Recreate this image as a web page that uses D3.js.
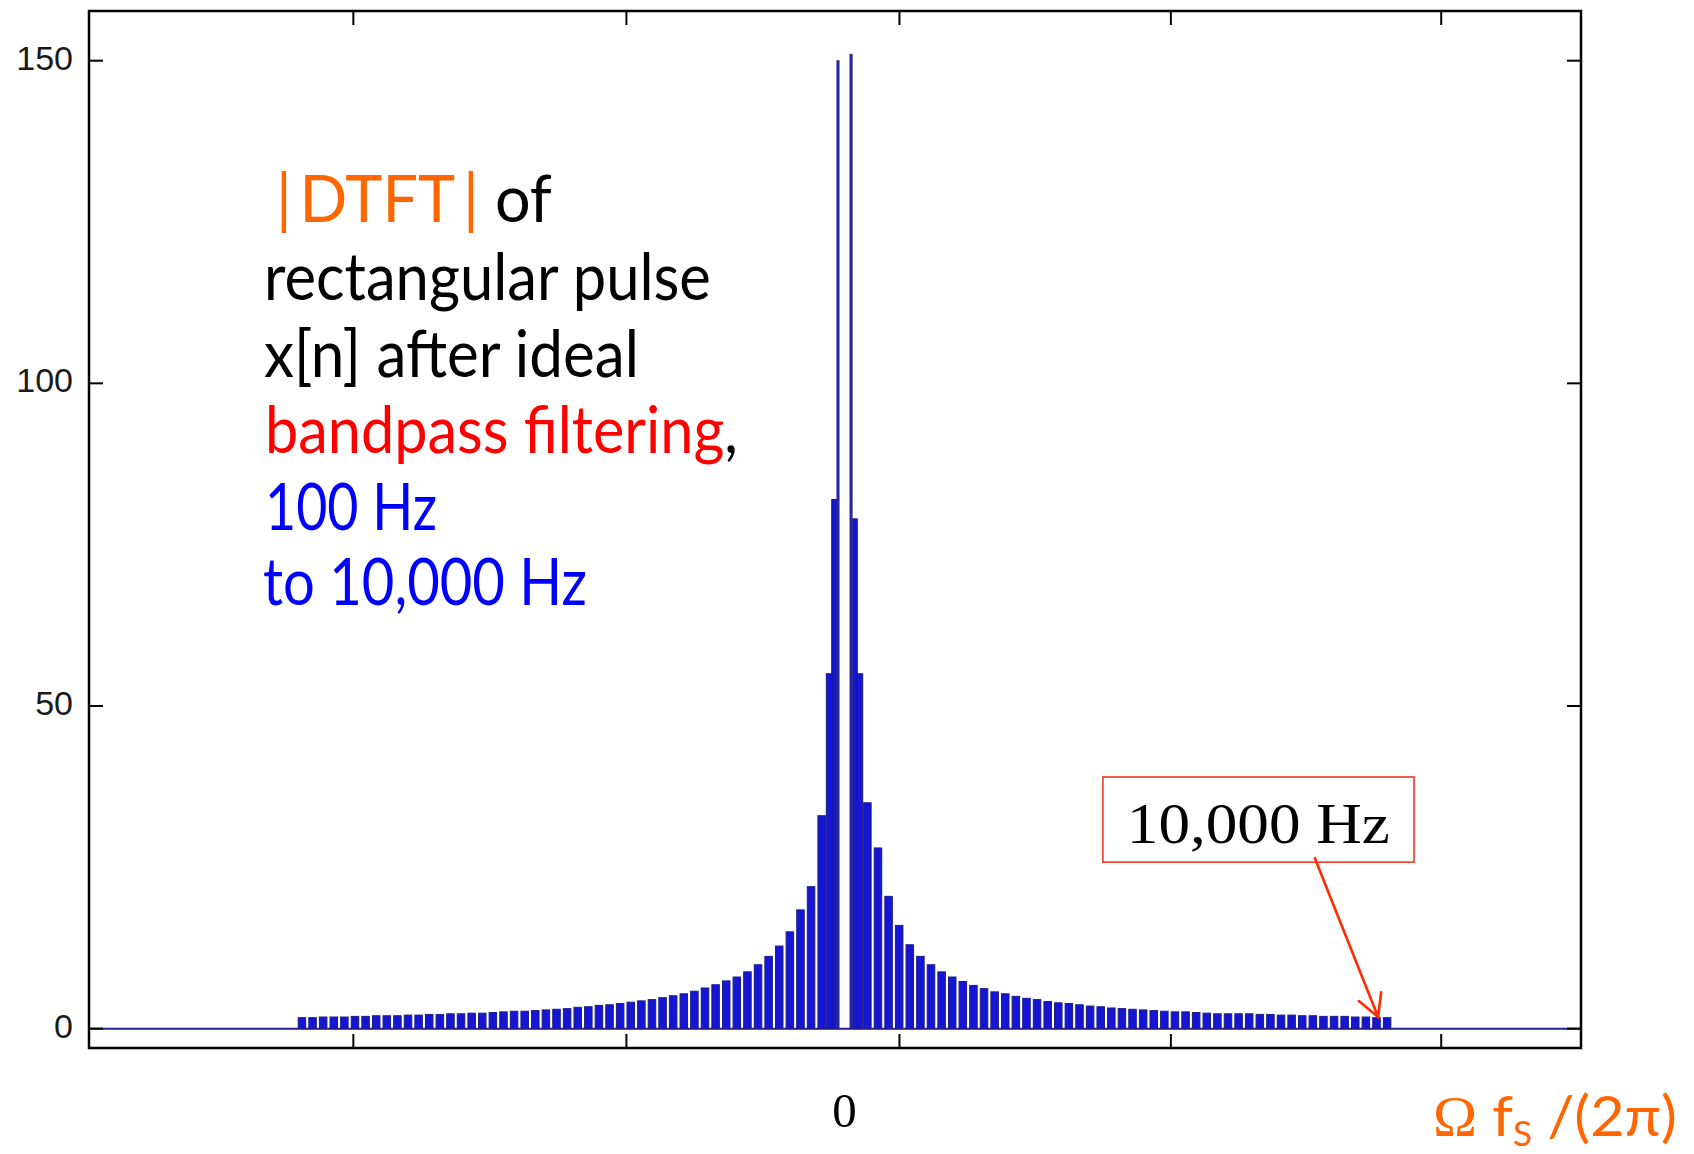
<!DOCTYPE html>
<html>
<head>
<meta charset="utf-8">
<script src="https://cdn.jsdelivr.net/npm/d3@7"></script>
<style>
  body { margin: 0; background: #fff; }
  svg { display: block; }
</style>
</head>
<body>
<svg id="chart" width="1694" height="1154"></svg>
<script>
var yTicks = [0, 50, 100, 150];
var xTicks = [-9030, -4010, 1010, 6000, 10970];

// centre of the spectrum: stepped main lobes either side of the 100 Hz notch
var mainRight = [
  {f0: 100, f1: 140, v: 151},
  {f0: 140, f1: 235, v: 79},
  {f0: 235, f1: 335, v: 55}
];
var mainLeft = [
  {f0: -140, f1: -100, v: 150},
  {f0: -235, f1: -140, v: 82},
  {f0: -335, f1: -235, v: 55}
];

// side lobe peaks, going outwards from the centre (Hz grid below)
var lobeStart = 420, lobeStep = 195, lobeWidth = 138;
var rightPeaks = [35, 28, 20.5, 16, 13, 11.2, 9.9, 8.8, 8.0, 7.3,
  6.7, 6.2, 5.7, 5.4, 5.0, 4.7, 4.5, 4.2, 4.0, 3.9,
  3.7, 3.5, 3.4, 3.2, 3.1, 3.0, 2.9, 2.8, 2.7, 2.6,
  2.6, 2.5, 2.4, 2.3, 2.3, 2.3, 2.3, 2.2, 2.2, 2.1,
  2.1, 2.0, 2.0, 1.9, 1.9, 1.9, 1.8, 1.8, 1.7, 1.7];
var leftPeaks = [33, 22, 18.4, 15, 12.8, 11.2, 9.9, 8.8, 8.0, 7.4,
  6.8, 6.3, 5.8, 5.4, 5.1, 4.8, 4.5, 4.3, 4.1, 3.9,
  3.7, 3.6, 3.4, 3.3, 3.1, 3.0, 2.9, 2.8, 2.7, 2.7,
  2.6, 2.5, 2.4, 2.4, 2.3, 2.3, 2.2, 2.2, 2.1, 2.1,
  2.0, 2.0, 2.0, 1.9, 1.9, 1.8, 1.8, 1.8, 1.7, 1.7];

// annotation, in data units
var markFreq = 9810, markVal = 1.8;
var boxCorner = {f0: 4750, f1: 10470, v0: 25.8, v1: 39.0};

var textLines = [
  {x: 276, y: 222, w: 276, parts: [["|\u2009DTFT\u2009|", "#ff6600"], [" of", "#000"]]},
  {x: 264, y: 300, w: 447, parts: [["rectangular pulse", "#000"]]},
  {x: 264, y: 377, w: 375, parts: [["x[n] after ideal", "#000"]]},
  {x: 265, y: 453, w: 473, parts: [["bandpass filtering", "#ff0000"], [",", "#000"]]},
  {x: 265, y: 530, w: 172, parts: [["100 Hz", "#0000ff"]]},
  {x: 263, y: 605, w: 324, parts: [["to 10,000 Hz", "#0000ff"]]}
];

function makeChart(){
  var svg = d3.select("#chart");
  var left = 89, right = 1581, top = 11, bottom = 1048;

  var x = d3.scaleLinear().domain([-13890, 13540]).range([left, right]);
  var y = d3.scaleLinear().domain([-3, 157.7]).range([bottom, top]);

  var lobes = [];
  rightPeaks.forEach(function(v, i){
    var c = lobeStart + lobeStep*i;
    lobes.push({f0: c - lobeWidth/2, f1: c + lobeWidth/2, v: v});
  });
  leftPeaks.forEach(function(v, i){
    var c = -(lobeStart + lobeStep*i);
    lobes.push({f0: c - lobeWidth/2, f1: c + lobeWidth/2, v: v});
  });
  var bars = lobes.concat(mainLeft.slice(1), mainRight.slice(1));
  var spikes = [mainLeft[0], mainRight[0]];

  var plot = svg.append("g");

  // zero line across the whole frame
  plot.append("line")
    .attr("x1", left).attr("x2", right)
    .attr("y1", y(0)).attr("y2", y(0))
    .attr("stroke", "#22229a").attr("stroke-width", 2);

  plot.selectAll("rect.lobe")
    .data(bars)
    .enter()
    .append("rect")
    .attr("class", "lobe")
    .attr("x", d => x(d.f0))
    .attr("width", d => x(d.f1) - x(d.f0))
    .attr("y", d => y(d.v))
    .attr("height", d => y(0) - y(d.v))
    .attr("fill", "#1515d6")
    .attr("stroke", "#1e1e84")
    .attr("stroke-width", 1);

  plot.selectAll("rect.spike")
    .data(spikes)
    .enter()
    .append("rect")
    .attr("class", "spike")
    .attr("x", d => x(d.f0))
    .attr("width", d => x(d.f1) - x(d.f0))
    .attr("y", d => y(d.v))
    .attr("height", d => y(0) - y(d.v))
    .attr("fill", "#2a2aa6")
    .attr("stroke", "#24248c")
    .attr("stroke-width", 0.8);

  // frame and inward ticks on all four sides
  var axes = svg.append("g");
  axes.append("rect")
    .attr("x", left).attr("y", top)
    .attr("width", right-left).attr("height", bottom-top)
    .attr("fill", "none").attr("stroke", "#000").attr("stroke-width", 2.5);

  var tl = 14;
  axes.selectAll("line.xb").data(xTicks).enter().append("line")
    .attr("x1", d => x(d)).attr("x2", d => x(d))
    .attr("y1", bottom).attr("y2", bottom - tl)
    .attr("stroke", "#000").attr("stroke-width", 2);
  axes.selectAll("line.xt").data(xTicks).enter().append("line")
    .attr("x1", d => x(d)).attr("x2", d => x(d))
    .attr("y1", top).attr("y2", top + tl)
    .attr("stroke", "#000").attr("stroke-width", 2);
  axes.selectAll("line.yl").data(yTicks).enter().append("line")
    .attr("x1", left).attr("x2", left + tl)
    .attr("y1", d => y(d)).attr("y2", d => y(d))
    .attr("stroke", "#000").attr("stroke-width", 2);
  axes.selectAll("line.yr").data(yTicks).enter().append("line")
    .attr("x1", right).attr("x2", right - tl)
    .attr("y1", d => y(d)).attr("y2", d => y(d))
    .attr("stroke", "#000").attr("stroke-width", 2);

  axes.selectAll("text.ylab").data(yTicks).enter().append("text")
    .attr("x", 73).attr("y", d => y(d) + 9)
    .attr("text-anchor", "end")
    .style("font-family", "'Liberation Sans', Arial, sans-serif")
    .style("font-size", "34px")
    .attr("fill", "#1a1a1a")
    .text(d => d);

  // slide text, squeezed to the width of the original lines
  var notes = svg.append("g");
  textLines.forEach(function(l){
    var t = notes.append("text")
      .style("font-family", "Lato, 'Open Sans', sans-serif")
      .style("font-size", "65px");
    l.parts.forEach(function(p){
      t.append("tspan").attr("fill", p[1]).text(p[0]);
    });
    var w = t.node().getComputedTextLength();
    t.attr("transform", "translate(" + l.x + "," + l.y + ") scale(" + (l.w/w) + ",1)");
  });

  // "0" under the centre
  svg.append("text")
    .attr("x", x(0)).attr("y", 1127)
    .attr("text-anchor", "middle")
    .style("font-family", "'Liberation Serif', 'Times New Roman', serif")
    .style("font-size", "49px")
    .attr("fill", "#000")
    .text("0");

  // axis label
  var xl = svg.append("text")
    .style("font-family", "Lato, 'Open Sans', sans-serif")
    .style("font-size", "57px")
    .attr("fill", "#ff6600");
  xl.append("tspan").style("font-family", "'Liberation Serif', serif").text("Ω");
  xl.append("tspan").text(" f");
  xl.append("tspan").attr("dy", 10).style("font-size", "34px").text("S");
  xl.append("tspan").attr("dy", -10).text(" /(2π)");
  var xlw = xl.node().getComputedTextLength();
  xl.attr("transform", "translate(1433,1136) scale(" + (244/xlw) + ",1)");

  // boxed annotation with arrow to the 10 kHz edge
  var bx0 = x(boxCorner.f0), bx1 = x(boxCorner.f1);
  var by0 = y(boxCorner.v1), by1 = y(boxCorner.v0);
  svg.append("rect")
    .attr("x", bx0).attr("y", by0)
    .attr("width", bx1-bx0).attr("height", by1-by0)
    .attr("fill", "#fff").attr("stroke", "#ea3a22").attr("stroke-width", 1.6);
  svg.append("text")
    .attr("x", bx0 + 24).attr("y", by0 + 66)
    .attr("textLength", 263).attr("lengthAdjust", "spacingAndGlyphs")
    .style("font-family", "'Liberation Serif', 'Times New Roman', serif")
    .style("font-size", "58px")
    .attr("fill", "#000")
    .text("10,000 Hz");

  var sx = bx0 + 212, sy = by1 - 4;
  var tx = x(markFreq), ty = y(markVal);
  var ang = Math.atan2(ty - sy, tx - sx);
  var hl = 25, spread = 0.5;
  var arrow = svg.append("g").attr("stroke", "#ff2a00").attr("stroke-width", 2.6)
    .attr("fill", "none").attr("stroke-linecap", "round");
  arrow.append("line").attr("x1", sx).attr("y1", sy).attr("x2", tx).attr("y2", ty);
  arrow.append("path")
    .attr("d", "M" + (tx - hl*Math.cos(ang - spread)) + "," + (ty - hl*Math.sin(ang - spread)) +
      "L" + tx + "," + ty +
      "L" + (tx - hl*Math.cos(ang + spread)) + "," + (ty - hl*Math.sin(ang + spread)));
}

document.fonts.ready.then(makeChart);
</script>
</body>
</html>
